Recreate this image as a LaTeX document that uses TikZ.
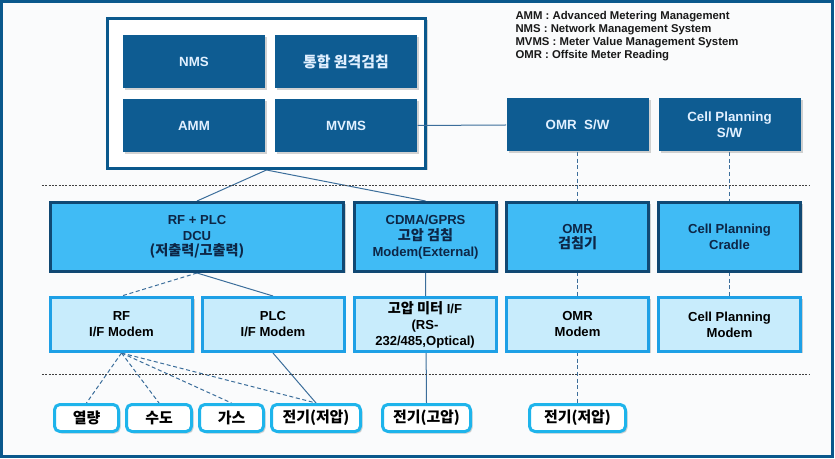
\documentclass[tikz,border=0pt]{standalone}
\usepackage{fontspec}
\setmainfont{Liberation Sans}
\newfontfamily\kr{Noto Sans CJK KR}
\usetikzlibrary{shadows,backgrounds}

\definecolor{frameblue}{RGB}{10,88,140}
\definecolor{sysblue}{RGB}{14,92,146}
\definecolor{syslabel}{RGB}{225,240,255}
\definecolor{unitfill}{RGB}{64,187,245}
\definecolor{unitedge}{RGB}{16,72,115}
\definecolor{unitlabel}{RGB}{13,38,70}
\definecolor{modemfill}{RGB}{200,236,252}
\definecolor{modemedge}{RGB}{30,160,230}
\definecolor{meteredge}{RGB}{30,180,235}
\definecolor{wire}{RGB}{60,110,155}
\definecolor{paper}{RGB}{250,251,252}

\newcommand\hangul[1]{{\kr\fontsize{10.6}{11.8}\selectfont #1}}

\tikzset{every picture/.style={line width=0.75pt}}
\tikzset{
  boxshadow/.style={drop shadow={shadow xshift=1.5pt, shadow yshift=-1.5pt, opacity=.35, fill=gray}},
  darkbox/.style={fill=sysblue, text=syslabel, boxshadow, inner sep=0pt, align=center,
    minimum width=142*0.75pt, minimum height=53*0.75pt,
    font=\fontsize{10}{11.8}\selectfont\bfseries},
  holder/.style={draw=frameblue, fill=white, line width=2.25pt, boxshadow, inner sep=0pt,
    minimum width=318*0.75pt, minimum height=150*0.75pt},
  unitbox/.style={draw=unitedge, fill=unitfill, text=unitlabel, line width=2.25pt, boxshadow,
    inner sep=0pt, align=center, minimum width=142*0.75pt, minimum height=69*0.75pt,
    font=\fontsize{9.8}{11.8}\selectfont\bfseries},
  modembox/.style={draw=modemedge, fill=modemfill, line width=2.25pt, boxshadow,
    inner sep=0pt, align=center, minimum width=142*0.75pt, minimum height=54*0.75pt,
    font=\fontsize{9.8}{12}\selectfont\bfseries},
  meterbox/.style={draw=meteredge, fill=white, line width=2.25pt, rounded corners=4pt, boxshadow,
    inner sep=0pt, align=center, minimum width=64*0.75pt, minimum height=27*0.75pt,
    font=\kr\fontsize{11.2}{12}\selectfont\bfseries},
  legend/.style={inner sep=0pt, align=left, text=black!90,
    font=\fontsize{8.5}{9.6}\selectfont\bfseries},
  link/.style={draw=wire, line width=0.75pt},
  radiolink/.style={link, dash pattern=on 3pt off 2pt},
  sepline/.style={draw=black!75, line width=0.6pt, dash pattern=on 1.5pt off 1pt}
}

\begin{document}
\begin{tikzpicture}[x=0.75pt,y=0.75pt,yscale=-1,xscale=1]
\useasboundingbox (0,0) rectangle (835,459);

%Frame
\begin{scope}[on background layer]
\draw [draw=frameblue, fill=paper, line width=2.25pt] (1.5,1.5) rectangle (832.5,456.5);
\end{scope}

%Server side
\node [holder] (srv) at (266.5,93.5) {};
\node [darkbox] (nms) at (194,61.5) {NMS};
\node [darkbox] (rmr) at (346,61.5) {{\kr\fontsize{11.2}{12}\selectfont 통합 원격검침}};
\node [darkbox] (amm) at (194,125.5) {AMM};
\node [darkbox] (mvms) at (346,125.5) {MVMS};
\node [darkbox] (omrsw) at (577.5,125) {OMR\ \ S/W};
\node [darkbox] (cellsw) at (729.5,125) {Cell Planning\\S/W};

% Text Node
\node [legend, anchor=north west] (abbr) at (515,11) {AMM : Advanced Metering Management\\NMS : Network Management System\\MVMS : Meter Value Management System\\OMR : Offsite Meter Reading};

%Separators
\draw [sepline] (42,185) -- (810,185);
\draw [sepline] (42,374) -- (810,374);

%Collectors
\node [unitbox, minimum width=293*0.75pt] (dcu) at (197,237) {RF + PLC\\DCU\\\hangul{(저출력/고출력)}};
\node [unitbox] (cdma) at (425.5,237) {CDMA/GPRS\\\hangul{고압 검침}\\Modem(External)};
\node [unitbox] (omrr) at (577.5,237) {OMR\\\hangul{검침기}};
\node [unitbox] (cellcr) at (729.5,237) {Cell Planning\\Cradle};

%Modems
\node [modembox] (rfm) at (121.5,324.5) {RF\\I/F Modem};
\node [modembox] (plcm) at (273,324.5) {PLC\\I/F Modem};
\node [modembox] (hvif) at (425,324.5) {\hangul{고압 미터} I/F\\(RS-\\232/485,Optical)};
\node [modembox] (omrm) at (577.5,324.5) {OMR\\Modem};
\node [modembox] (cellm) at (729.5,324.5) {Cell Planning\\Modem};

%Meters
\node [meterbox] (heat) at (86.5,418) {열량};
\node [meterbox, minimum width=65*0.75pt] (water) at (159,418) {수도};
\node [meterbox] (gas) at (231.5,418) {가스};
\node [meterbox, minimum width=89*0.75pt] (lowa) at (316,418) {전기(저압)};
\node [meterbox, minimum width=88*0.75pt] (high) at (426.5,418) {전기(고압)};
\node [meterbox, minimum width=96*0.75pt] (lowb) at (577.5,418) {전기(저압)};

%Straight Lines
\draw [link] (mvms.east) -- (omrsw.west);
\begin{scope}[on background layer]
\draw [link] (srv.south) -- (dcu.north);
\draw [link] (srv.south) -- (cdma.north);
\draw [radiolink] (dcu.south) -- (rfm.north);
\draw [link] (dcu.south) -- (plcm.north);
\draw [radiolink] (rfm.south) -- (heat.north);
\draw [radiolink] (rfm.south) -- (water.north);
\draw [radiolink] (rfm.south) -- (gas.north);
\draw [radiolink] (rfm.south) -- (lowa.north);
\draw [link] (plcm.south) -- (lowa.north);
\draw [link] (cdma.south) -- (high.north);
\draw [radiolink] (omrsw.south) -- (lowb.north);
\draw [radiolink] (cellsw.south) -- (cellm.north);
\end{scope}

\end{tikzpicture}
\end{document}
